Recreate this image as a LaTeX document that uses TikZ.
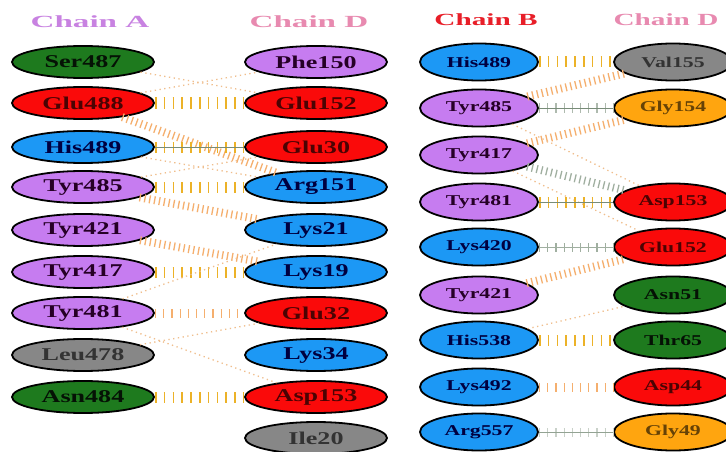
\documentclass[tikz,border=0pt]{standalone}
\usepackage{fontspec}
\setmainfont{Liberation Serif}
\usetikzlibrary{shapes.geometric}

\definecolor{resGreen}{RGB}{30,122,30}
\definecolor{resRed}{RGB}{250,10,10}
\definecolor{resBlue}{RGB}{28,152,245}
\definecolor{resViolet}{RGB}{198,124,240}
\definecolor{resGray}{RGB}{135,135,135}
\definecolor{resOrange}{RGB}{255,165,15}
\definecolor{tickGold}{RGB}{236,178,40}
\definecolor{tickOrange}{RGB}{245,175,110}
\definecolor{dotOrange}{RGB}{240,190,140}
\definecolor{bondGray}{RGB}{120,140,120}
\definecolor{titleViolet}{RGB}{200,130,225}
\definecolor{titlePink}{RGB}{232,138,176}
\definecolor{titleRed}{RGB}{232,30,40}

\newcommand{\wlab}[1]{\scalebox{1.45}[1]{#1}}
\newcommand{\rlab}[1]{\scalebox{1.45}[1]{#1}}

\tikzset{
  res/.style={ellipse, draw=black, line width=1.8pt, inner sep=0pt,
    font=\fontsize{18}{18}\selectfont\bfseries},
  resL/.style={res, minimum width=142pt, minimum height=32pt},
  resR/.style={res, minimum width=118pt, minimum height=37pt,
    font=\fontsize{15}{15}\selectfont\bfseries},
  gr/.style={fill=resGreen, text=black!85!resGreen},
  rd/.style={fill=resRed, text=black!70!resRed},
  bl/.style={fill=resBlue, text=black!75!blue},
  vi/.style={fill=resViolet, text=black!70!violet},
  gy/.style={fill=resGray, text=black!80},
  og/.style={fill=resOrange, text=black!60!resOrange},
  title/.style={font=\fontsize{17}{17}\selectfont\bfseries},
  hbtick/.style={draw=tickGold, line width=11pt, dash pattern=on 1.6pt off 7.2pt},
  hbsparse/.style={draw=tickOrange, line width=9pt, dash pattern=on 1.2pt off 7pt},
  hbdiag/.style={draw=tickOrange, line width=8pt, dash pattern=on 1.3pt off 3.6pt},
  hbcore/.style={draw=bondGray, line width=0.8pt},
  faint/.style={draw=dotOrange, line width=1.3pt, dash pattern=on 1.3pt off 3.5pt},
}

\begin{document}
\begin{tikzpicture}[x=1pt, y=-1pt]
\useasboundingbox (0,0) rectangle (726,452);
\fill[white] (0,0) rectangle (726,452);

% ---------- titles ----------
\node[title, text=titleViolet] at (90,22) {\scalebox{1.95}[1]{Chain A}};
\node[title, text=titlePink] at (309,22) {\scalebox{1.95}[1]{Chain D}};
\node[title, text=titleRed] at (486,20) {\scalebox{1.72}[1]{Chain B}};
\node[title, text=titlePink] at (666,20) {\scalebox{1.72}[1]{Chain D}};

% ---------- left panel: chain A ----------
\node[resL, gr] (aS487) at (83,62)  {\wlab{Ser487}};
\node[resL, rd] (aE488) at (83,103) {\wlab{Glu488}};
\node[resL, bl] (aH489) at (83,147) {\wlab{His489}};
\node[resL, vi] (aY485) at (83,187) {\wlab{Tyr485}};
\node[resL, vi] (aY421) at (83,230) {\wlab{Tyr421}};
\node[resL, vi] (aY417) at (83,272) {\wlab{Tyr417}};
\node[resL, vi] (aY481) at (83,313) {\wlab{Tyr481}};
\node[resL, gy] (aL478) at (83,355) {\wlab{Leu478}};
\node[resL, gr] (aN484) at (83,397) {\wlab{Asn484}};

% ---------- left panel: chain D ----------
\node[resL, vi] (dF150) at (316,62)  {\wlab{Phe150}};
\node[resL, rd] (dE152) at (316,103) {\wlab{Glu152}};
\node[resL, rd] (dE30)  at (316,147) {\wlab{Glu30}};
\node[resL, bl] (dR151) at (316,187) {\wlab{Arg151}};
\node[resL, bl] (dK21)  at (316,230) {\wlab{Lys21}};
\node[resL, bl] (dK19)  at (316,272) {\wlab{Lys19}};
\node[resL, rd] (dE32)  at (316,313) {\wlab{Glu32}};
\node[resL, bl] (dK34)  at (316,355) {\wlab{Lys34}};
\node[resL, rd] (dD153) at (316,397) {\wlab{Asp153}};
\node[resL, gy] (dI20)  at (316,438) {\wlab{Ile20}};

% ---------- right panel: chain B ----------
\node[resR, bl] (bH489) at (479,62)  {\rlab{His489}};
\node[resR, vi] (bY485) at (479,108) {\rlab{Tyr485}};
\node[resR, vi] (bY417) at (479,155) {\rlab{Tyr417}};
\node[resR, vi] (bY481) at (479,202) {\rlab{Tyr481}};
\node[resR, bl] (bK420) at (479,247) {\rlab{Lys420}};
\node[resR, vi] (bY421) at (479,295) {\rlab{Tyr421}};
\node[resR, bl] (bH538) at (479,340) {\rlab{His538}};
\node[resR, bl] (bK492) at (479,387) {\rlab{Lys492}};
\node[resR, bl] (bR557) at (479,432) {\rlab{Arg557}};

% ---------- right panel: chain D ----------
\node[resR, gy] (eV155) at (673,62)  {\rlab{Val155}};
\node[resR, og] (eG154) at (673,108) {\rlab{Gly154}};
\node[resR, rd] (eD153) at (673,202) {\rlab{Asp153}};
\node[resR, rd] (eE152) at (673,247) {\rlab{Glu152}};
\node[resR, gr] (eN51)  at (673,295) {\rlab{Asn51}};
\node[resR, gr] (eT65)  at (673,340) {\rlab{Thr65}};
\node[resR, rd] (eD44)  at (673,387) {\rlab{Asp44}};
\node[resR, og] (eG49)  at (673,432) {\rlab{Gly49}};

% ---------- contacts, chain A / chain D ----------
\draw[faint] (aS487) -- (dE152);
\draw[faint] (aE488) -- (dF150);
\draw[hbtick] (aE488.east) -- (dE152.west);
\draw[hbdiag] (aE488) -- (dR151);
\draw[hbtick] (aH489.east) -- (dE30.west);
\draw[hbcore] (aH489.east) -- (dE30.west);
\draw[faint] (aH489) -- (dR151);
\draw[faint] (aY485) -- (dE30);
\draw[hbtick] (aY485.east) -- (dR151.west);
\draw[hbdiag] (aY485) -- (dK21);
\draw[hbdiag] (aY421) -- (dK19);
\draw[hbtick] (aY417.east) -- (dK19.west);
\draw[hbsparse] (aY481.east) -- (dE32.west);
\draw[faint] (aY481) -- (dK21);
\draw[faint] (aY481) -- (dD153);
\draw[faint] (aL478) -- (dE32);
\draw[hbtick] (aN484.east) -- (dD153.west);

% ---------- contacts, chain B / chain D ----------
\draw[hbtick] (bH489.east) -- (eV155.west);
\draw[hbdiag] (bY485) -- (eV155);
\draw[hbsparse, draw=bondGray!60] (bY485.east) -- (eG154.west);
\draw[hbcore] (bY485.east) -- (eG154.west);
\draw[hbdiag] (bY417) -- (eG154);
\draw[faint] (bY485) -- (eD153);
\draw[hbdiag, draw=bondGray!70] (bY417) -- (eD153);
\draw[faint] (bY417) -- (eE152);
\draw[hbtick] (bY481.east) -- (eD153.west);
\draw[hbcore] (bY481.east) -- (eD153.west);
\draw[hbsparse, draw=bondGray!70] (bK420.east) -- (eE152.west);
\draw[hbcore, draw=bondGray!70] (bK420.east) -- (eE152.west);
\draw[hbdiag] (bY421) -- (eE152);
\draw[faint] (bH538) -- (eN51);
\draw[hbtick] (bH538.east) -- (eT65.west);
\draw[hbsparse] (bK492.east) -- (eD44.west);
\draw[hbsparse, draw=bondGray!40] (bR557.east) -- (eG49.west);
\draw[hbcore, draw=bondGray!80] (bR557.east) -- (eG49.west);
\end{tikzpicture}
\end{document}
